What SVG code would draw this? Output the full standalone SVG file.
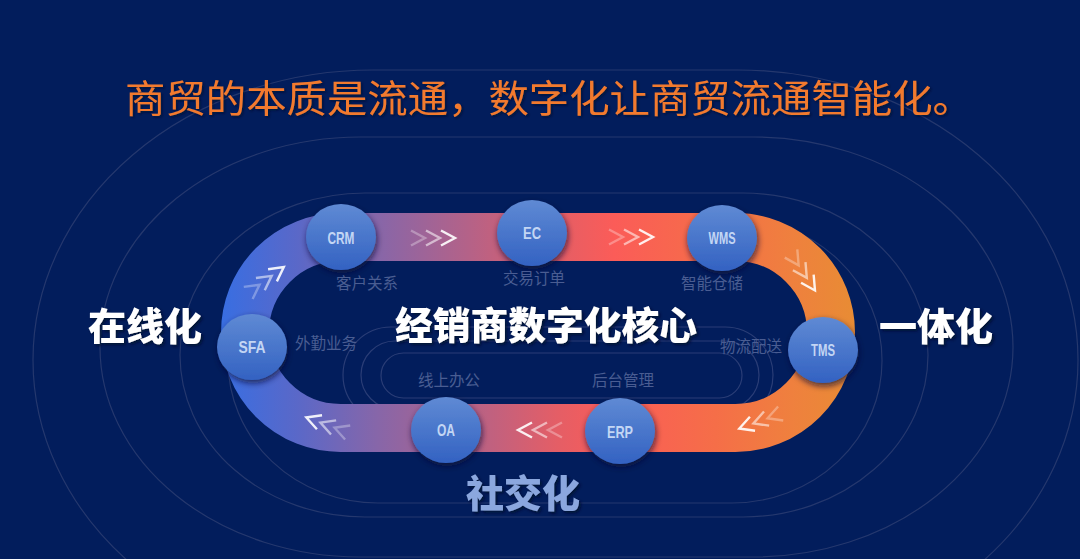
<svg xmlns="http://www.w3.org/2000/svg" width="1080" height="559" viewBox="0 0 1080 559">
  <defs>
    <style>
      .ring{fill:none;stroke:#25386e;stroke-width:1.2}
      .iring{fill:none;stroke:#2a3d76;stroke-width:1.2}
      .node{filter:url(#nshadow)}
      .ntext{font-family:"Liberation Sans Narrow","Liberation Sans",Arial,sans-serif;font-weight:bold;font-size:16.5px;fill:#c3d6f4;text-anchor:middle}
      .sub{font-family:"Noto Sans CJK SC","Noto Sans",sans-serif;font-size:15.5px;fill:#4a5d92;text-anchor:middle}
      .big{font-family:"Noto Sans CJK SC","Noto Sans",sans-serif;font-weight:900;font-size:38px;fill:#ffffff;text-anchor:middle;filter:url(#tshadow)}
      .chev{fill:none;stroke:#ffffff;stroke-width:2.4;stroke-linecap:butt;stroke-linejoin:miter}
    </style>
    <linearGradient id="trackGrad" gradientUnits="userSpaceOnUse" x1="221" y1="0" x2="855" y2="0">
      <stop offset="0" stop-color="#386ee2"/>
      <stop offset="0.12" stop-color="#5a68c8"/>
      <stop offset="0.25" stop-color="#8866a8"/>
      <stop offset="0.39" stop-color="#b46288"/>
      <stop offset="0.53" stop-color="#e45e66"/>
      <stop offset="0.62" stop-color="#fb5c58"/>
      <stop offset="0.78" stop-color="#f56e48"/>
      <stop offset="0.9" stop-color="#ef803e"/>
      <stop offset="1" stop-color="#e88c34"/>
    </linearGradient>
    <linearGradient id="nodeGrad" x1="0" y1="0" x2="0" y2="1">
      <stop offset="0" stop-color="#5f8ad4"/>
      <stop offset="1" stop-color="#3362c2"/>
    </linearGradient>
    <filter id="nshadow" x="-40%" y="-40%" width="180%" height="190%">
      <feDropShadow dx="1" dy="3" stdDeviation="3" flood-color="#071035" flood-opacity="0.75"/>
    </filter>
    <filter id="tshadow" x="-10%" y="-20%" width="120%" height="150%">
      <feDropShadow dx="2" dy="2" stdDeviation="1.5" flood-color="#050c2a" flood-opacity="0.8"/>
    </filter>
    <filter id="titleShadow" x="-5%" y="-20%" width="110%" height="150%">
      <feDropShadow dx="1.5" dy="1.5" stdDeviation="1" flood-color="#050c2a" flood-opacity="0.7"/>
    </filter>
    <g id="chev3">
      <path class="chev" d="M-22,-7.5 L-8,0 L-22,7.5" stroke-opacity="0.3"/>
      <path class="chev" d="M-7,-7.5 L7,0 L-7,7.5" stroke-opacity="0.55"/>
      <path class="chev" d="M8,-7.5 L22,0 L8,7.5" stroke-opacity="0.9"/>
    </g>
  </defs>

  <rect x="0" y="0" width="1080" height="559" fill="#021d5c"/>

  <!-- background rings -->
  <g id="rings">
    <rect class="ring" x="33" y="70" width="1045" height="580" rx="340" ry="290"/>
    <rect class="ring" x="100" y="137" width="913" height="420" rx="260" ry="210"/>
    <rect class="ring" x="180" y="193" width="748" height="324" rx="185" ry="162"/>
    <rect class="ring" x="228" y="218" width="654" height="285" rx="150" ry="142"/>
    <rect class="iring" x="343" y="327" width="430" height="96" rx="48" ry="48"/>
    <rect class="iring" x="361" y="341" width="398" height="68" rx="34" ry="34"/>
    <rect class="iring" x="381" y="353" width="361" height="45" rx="22.5" ry="22.5"/>
  </g>

  <!-- title -->
  <text x="549" y="112" font-family="'Noto Sans CJK SC','Noto Sans',sans-serif" font-size="38" fill="#f27a2e" text-anchor="middle" textLength="848" lengthAdjust="spacingAndGlyphs" filter="url(#titleShadow)">商贸的本质是流通，数字化让商贸流通智能化。</text>

  <!-- connectors: the flow track -->
  <g id="connectors">
    <rect x="245" y="237" width="586" height="191" rx="95.5" ry="95.5" fill="none" stroke="url(#trackGrad)" stroke-width="48"/>
    <use href="#chev3" transform="translate(433,238)"/>
    <use href="#chev3" transform="translate(631,237)"/>
    <use href="#chev3" transform="translate(803,272) rotate(57)"/>
    <use href="#chev3" transform="translate(327,425) rotate(200)"/>
    <use href="#chev3" transform="translate(540,430) rotate(180)"/>
    <use href="#chev3" transform="translate(760,421) rotate(160)"/>
    <use href="#chev3" transform="translate(266,280) rotate(-36)"/>
  </g>

  <!-- nodes -->
  <g id="node-crm">
    <ellipse class="node" cx="341" cy="237" rx="35" ry="33" fill="url(#nodeGrad)"/>
    <text class="ntext" x="341" y="244" textLength="27" lengthAdjust="spacingAndGlyphs">CRM</text>
    <text class="sub" x="367" y="289">客户关系</text>
  </g>
  <g id="node-ec">
    <ellipse class="node" cx="532" cy="233" rx="35" ry="33" fill="url(#nodeGrad)"/>
    <text class="ntext" x="532" y="239" textLength="18" lengthAdjust="spacingAndGlyphs">EC</text>
    <text class="sub" x="534" y="284">交易订单</text>
  </g>
  <g id="node-wms">
    <ellipse class="node" cx="722" cy="238" rx="35" ry="33" fill="url(#nodeGrad)"/>
    <text class="ntext" x="722" y="244" textLength="27" lengthAdjust="spacingAndGlyphs">WMS</text>
    <text class="sub" x="712" y="289">智能仓储</text>
  </g>
  <g id="node-sfa">
    <ellipse class="node" cx="252" cy="347" rx="35" ry="33" fill="url(#nodeGrad)"/>
    <text class="ntext" x="252" y="353" textLength="27" lengthAdjust="spacingAndGlyphs">SFA</text>
    <text class="sub" x="326" y="349">外勤业务</text>
  </g>
  <g id="node-tms">
    <ellipse class="node" cx="823" cy="350" rx="35" ry="33" fill="url(#nodeGrad)"/>
    <text class="ntext" x="823" y="356" textLength="24" lengthAdjust="spacingAndGlyphs">TMS</text>
    <text class="sub" x="751" y="352">物流配送</text>
  </g>
  <g id="node-oa">
    <ellipse class="node" cx="446" cy="430" rx="35" ry="33" fill="url(#nodeGrad)"/>
    <text class="ntext" x="446" y="436" textLength="18" lengthAdjust="spacingAndGlyphs">OA</text>
    <text class="sub" x="449" y="386">线上办公</text>
  </g>
  <g id="node-erp">
    <ellipse class="node" cx="620" cy="431" rx="35" ry="33" fill="url(#nodeGrad)"/>
    <text class="ntext" x="620" y="438" textLength="26" lengthAdjust="spacingAndGlyphs">ERP</text>
    <text class="sub" x="623" y="386">后台管理</text>
  </g>

  <!-- big labels -->
  <g id="label-core">
    <text class="big" x="546" y="339" textLength="302" lengthAdjust="spacingAndGlyphs">经销商数字化核心</text>
  </g>
  <g id="label-online">
    <text class="big" x="145" y="340">在线化</text>
  </g>
  <g id="label-integrated">
    <text class="big" x="936" y="340">一体化</text>
  </g>
  <g id="label-social">
    <text class="big" x="523" y="507" style="fill:#8ba7de">社交化</text>
  </g>
</svg>
